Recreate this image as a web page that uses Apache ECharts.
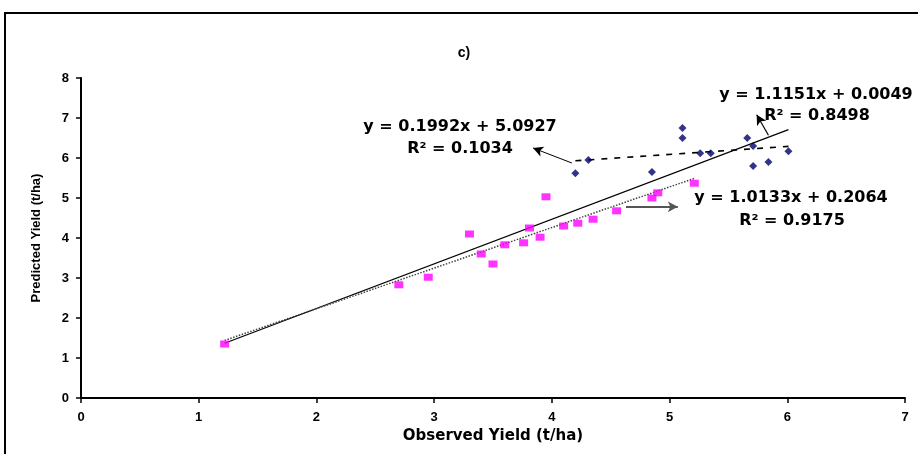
<!DOCTYPE html>
<html>
<head>
<meta charset="utf-8">
<script src="https://cdn.jsdelivr.net/npm/echarts@6/dist/echarts.min.js"></script>
<style>html,body{margin:0;padding:0;background:#fff}#c{width:918px;height:454px}</style>
</head>
<body>
<div id="c"></div>
<script>
// Observed vs predicted yield (t/ha)
const groupA_observed  = [1.22, 2.70, 2.95, 3.30, 3.40, 3.50, 3.60, 3.76, 3.81, 3.90, 3.95, 4.10, 4.22, 4.35, 4.55, 4.85, 4.90, 5.21];
const groupA_predicted = [1.35, 2.83, 3.02, 4.10, 3.60, 3.35, 3.83, 3.88, 4.25, 4.02, 5.03, 4.30, 4.37, 4.47, 4.68, 5.00, 5.13, 5.37];
const groupB_observed  = [4.20, 4.31, 4.85, 5.11, 5.11, 5.26, 5.35, 5.66, 5.71, 5.71, 5.84, 6.01];
const groupB_predicted = [5.62, 5.95, 5.65, 6.75, 6.50, 6.12, 6.12, 6.50, 6.30, 5.80, 5.90, 6.17];
// trendline end points
const trendAll = [[1.22, 1.37], [6.01, 6.71]];
const trendA   = [[1.22, 1.44], [5.21, 5.49]];
const trendB   = [[4.20, 5.93], [6.01, 6.29]];
// annotation arrows [from, to]
const arrowB   = [[4.17, 5.875], [3.84, 6.25]];
const arrowAll = [[5.84, 6.57], [5.74, 7.08]];
const arrowA   = [[4.63, 4.78], [5.07, 4.78]];
const xTicks = [0, 7, 1];
const yTicks = [0, 8, 1];
const title = 'c)';
const xName = 'Observed Yield (t/ha)';
const yName = 'Predicted Yield (t/ha)';
const eqB = ['y = 0.1992x + 5.0927', 'R² = 0.1034'];
const eqAll = ['y = 1.1151x + 0.0049', 'R² = 0.8498'];
const eqA = ['y = 1.0133x + 0.2064', 'R² = 0.9175'];

const chart = echarts.init(document.getElementById('c'), null, {renderer: 'canvas'});
const zip = (a, b) => a.map((v, i) => [v, b[i]]);
const eqFont = {fontFamily: 'DejaVu Sans', fontWeight: 'bold', fontSize: 16, fill: '#000', textAlign: 'center', textVerticalAlign: 'middle'};
function arrowLine(pair, color, width) {
  return [{coord: pair[0], symbol: 'none'}, {coord: pair[1], symbol: 'arrow', symbolSize: [8, 10], lineStyle: {color: color, width: width, type: 'solid'}}];
}
const axisCommon = {
  axisLine: {lineStyle: {color: '#000', width: 2}},
  axisTick: {lineStyle: {color: '#000', width: 1.5}, length: 5},
  axisLabel: {color: '#000', fontFamily: 'Liberation Sans', fontWeight: 'bold', fontSize: 13},
  splitLine: {show: false},
  nameTextStyle: {color: '#000', fontFamily: 'Liberation Sans', fontWeight: 'bold', fontSize: 13},
  nameLocation: 'middle'
};
const option = {
  animation: false,
  backgroundColor: '#fff',
  title: {text: title, left: 459, top: 41, textAlign: 'center',
    textStyle: {fontFamily: 'Liberation Sans', fontWeight: 'bold', fontSize: 14, color: '#000'}},
  grid: {left: 81, right: 13, top: 78, bottom: 56},
  xAxis: Object.assign({}, axisCommon, {type: 'value', min: xTicks[0], max: xTicks[1], interval: xTicks[2], name: xName, nameGap: 30,
    nameTextStyle: {color: '#000', fontFamily: 'DejaVu Sans', fontWeight: 'bold', fontSize: 15},
    axisLabel: Object.assign({}, axisCommon.axisLabel, {margin: 13})}),
  yAxis: Object.assign({}, axisCommon, {type: 'value', min: yTicks[0], max: yTicks[1], interval: yTicks[2], name: yName, nameGap: 38,
    axisLabel: Object.assign({}, axisCommon.axisLabel, {margin: 12})}),
  graphic: [
    {type: 'rect', shape: {x: 5, y: 13, width: 1000, height: 1000}, style: {fill: 'none', stroke: '#000', lineWidth: 2}, silent: true, z: -1},
    {type: 'text', x: 460, y: 127, style: Object.assign({text: eqB[0]}, eqFont)},
    {type: 'text', x: 460, y: 149, style: Object.assign({text: eqB[1]}, eqFont)},
    {type: 'text', x: 816, y: 95, style: Object.assign({text: eqAll[0]}, eqFont)},
    {type: 'text', x: 817, y: 116, style: Object.assign({text: eqAll[1]}, eqFont)},
    {type: 'text', x: 791, y: 198, style: Object.assign({text: eqA[0]}, eqFont)},
    {type: 'text', x: 792, y: 221, style: Object.assign({text: eqA[1]}, eqFont)}
  ],
  series: [
    {type: 'line', data: trendAll, showSymbol: false, silent: true, lineStyle: {color: '#000', width: 1.2, type: 'solid'},
      markLine: {silent: true, animation: false, label: {show: false}, data: [arrowLine(arrowB, '#000', 1), arrowLine(arrowAll, '#000', 1.2)]}},
    {type: 'line', data: trendA, showSymbol: false, silent: true, lineStyle: {color: '#444', width: 1.5, type: [1.5, 1.5]},
      markLine: {silent: true, animation: false, label: {show: false}, data: [arrowLine(arrowA, '#555', 2)]}},
    {type: 'line', data: trendB, showSymbol: false, silent: true, lineStyle: {color: '#000', width: 1.6, type: [6, 7]}},
    {type: 'scatter', data: zip(groupA_observed, groupA_predicted), symbol: 'rect', symbolSize: [9, 7], itemStyle: {color: '#FF00FF'}, z: 5},
    {type: 'scatter', data: zip(groupB_observed, groupB_predicted), symbol: 'diamond', symbolSize: [8, 8], itemStyle: {color: '#00006E'}, z: 5}
  ]
};
chart.setOption(option);
</script>
</body>
</html>
